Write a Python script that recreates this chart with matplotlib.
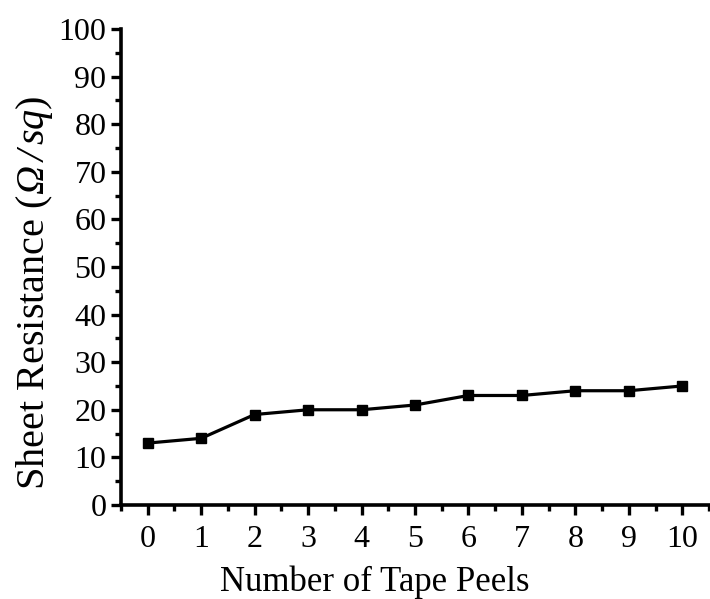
import matplotlib
matplotlib.use("Agg")
import matplotlib.pyplot as plt
from matplotlib.ticker import MultipleLocator

peels = [0, 1, 2, 3, 4, 5, 6, 7, 8, 9, 10]
resistance = [13, 14, 19, 20, 20, 21, 23, 23, 24, 24, 25]

plt.rcParams['font.family'] = 'Liberation Serif'
plt.rcParams['mathtext.fontset'] = 'custom'
# the unit is set in italics, including the Greek Omega
plt.rcParams['mathtext.rm'] = 'Liberation Serif:italic'
plt.rcParams['mathtext.it'] = 'Liberation Serif:italic'

fig = plt.figure(figsize=(7.10, 5.99), dpi=100)
ax = fig.add_axes([0.1704, 0.157, 0.8282, 0.7946])

ax.plot(peels, resistance, color='black', lw=2.3, marker='s', ms=7.5,
        markerfacecolor='black', markeredgecolor='black')

ax.set_xlim(-0.5, 10.5)
ax.set_ylim(0, 100)
ax.xaxis.set_major_locator(MultipleLocator(1))
ax.xaxis.set_minor_locator(MultipleLocator(0.5))
ax.yaxis.set_major_locator(MultipleLocator(10))
ax.yaxis.set_minor_locator(MultipleLocator(5))

for s in ['top', 'right']:
    ax.spines[s].set_visible(False)
for s in ['left', 'bottom']:
    ax.spines[s].set_linewidth(2.6)

ax.tick_params(which='major', direction='out', length=7, width=2.4,
               labelsize=23)
ax.tick_params(axis='y', which='major', pad=3.5)
ax.tick_params(axis='x', which='major', pad=7.5)
ax.tick_params(which='minor', direction='out', length=4.5, width=2.4)

ax.set_xlabel('Number of Tape Peels', fontsize=25)
ax.xaxis.set_label_coords(0.431, -0.128)
ax.set_ylabel(r'Sheet Resistance ($\Omega\,/\,sq$)', fontsize=29)
ax.yaxis.set_label_coords(-0.113, 0.446)

fig.savefig('out.png', dpi=100)
